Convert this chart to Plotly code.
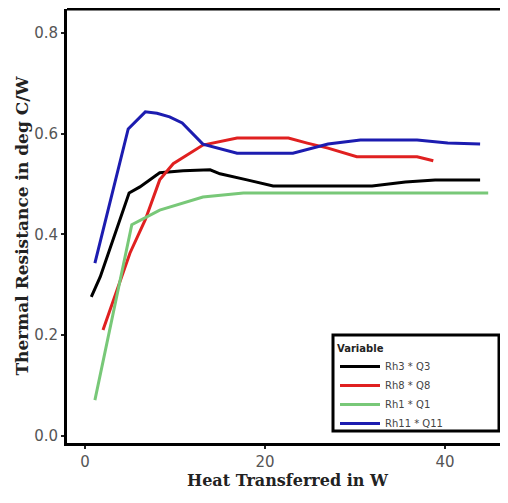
import plotly.graph_objects as go

# Data
x_rh3 = [0.7, 1.7, 4.9, 6.1, 8.3, 10.9, 13.9, 15.0, 18.0, 20.9, 25.0, 31.9, 35.6, 38.9, 43.9]
y_rh3 = [0.276, 0.316, 0.482, 0.494, 0.522, 0.526, 0.528, 0.520, 0.508, 0.496, 0.496, 0.496, 0.504, 0.508, 0.508]

x_rh8 = [2.0, 3.3, 5.0, 6.7, 8.3, 9.8, 13.1, 16.9, 22.6, 24.7, 27.0, 30.2, 36.9, 38.7]
y_rh8 = [0.210, 0.276, 0.363, 0.429, 0.508, 0.540, 0.577, 0.591, 0.591, 0.581, 0.571, 0.554, 0.554, 0.546]

x_rh1 = [1.1, 5.2, 8.3, 13.1, 17.6, 30.0, 44.8]
y_rh1 = [0.071, 0.419, 0.448, 0.474, 0.482, 0.482, 0.482]

x_rh11 = [1.1, 4.8, 6.7, 8.0, 9.4, 10.8, 13.1, 16.9, 23.1, 27.0, 30.6, 36.9, 40.3, 43.9]
y_rh11 = [0.343, 0.609, 0.643, 0.640, 0.633, 0.621, 0.579, 0.561, 0.561, 0.579, 0.587, 0.587, 0.581, 0.579]

series_names = ["Rh3 * Q3", "Rh8 * Q8", "Rh1 * Q1", "Rh11 * Q11"]
series_x = [x_rh3, x_rh8, x_rh1, x_rh11]
series_y = [y_rh3, y_rh8, y_rh1, y_rh11]
colors = ["#000000", "#e02020", "#78c878", "#1c1cb0"]

x_ticks = [0, 20, 40]
y_ticks = [0.0, 0.2, 0.4, 0.6, 0.8]
y_tick_text = ["0.0", "0.2", "0.4", "0.6", "0.8"]

W, H = 500, 495
L, R, T, B = 59, 0, 1, 60
PW, PH = W - L - R, H - T - B

def px(xpage):
    return (xpage - 8 - L) / PW

def py(ypage):
    return (H - B - (ypage - 8)) / PH

fig = go.Figure()
for name, xs, ys, c in zip(series_names, series_x, series_y, colors):
    fig.add_trace(go.Scatter(x=xs, y=ys, mode="lines", name=name,
                             line=dict(color=c, width=3)))

fig.update_layout(
    width=W, height=H,
    margin=dict(l=L, r=R, t=T, b=B),
    paper_bgcolor="white", plot_bgcolor="white",
    showlegend=True,
    legend=dict(
        title=dict(text="<b>Variable</b>", font=dict(size=10, color="#222", family="DejaVu Sans")),
        font=dict(size=10, color="#444", family="DejaVu Sans"),
        x=px(335), y=py(339), xanchor="left", yanchor="top",
        bgcolor="rgba(0,0,0,0)", borderwidth=0,
        itemwidth=40, tracegroupgap=0,
    ),
    xaxis=dict(
        range=[-2, 47], tickvals=x_ticks, ticks="outside", ticklen=3, tickwidth=2,
        tickcolor="#222", showgrid=False, zeroline=False,
        showline=True, linecolor="black", linewidth=3,
        tickfont=dict(size=15, color="#555", family="DejaVu Sans"),
        title=dict(text="<b>Heat Transferred in W</b>",
                   font=dict(size=16, color="#222", family="DejaVu Serif"), standoff=5),
    ),
    yaxis=dict(
        range=[-0.014, 0.847], tickvals=y_ticks, ticktext=y_tick_text,
        ticks="outside", ticklen=3, tickwidth=2, tickcolor="#222",
        showgrid=False, zeroline=False,
        showline=True, linecolor="black", linewidth=3,
        tickfont=dict(size=15, color="#555", family="DejaVu Sans"),
        title=dict(text="<b>Thermal Resistance in deg C/W</b>",
                   font=dict(size=17, color="#222", family="DejaVu Serif"), standoff=2),
    ),
    shapes=[
        dict(type="line", xref="paper", yref="paper", x0=0, x1=1, y0=1, y1=1,
             line=dict(color="black", width=3)),
        dict(type="rect", xref="paper", yref="paper",
             x0=px(333), x1=px(499), y0=py(431), y1=py(335),
             line=dict(color="black", width=3)),
    ],
)

fig.write_html("out.html")
